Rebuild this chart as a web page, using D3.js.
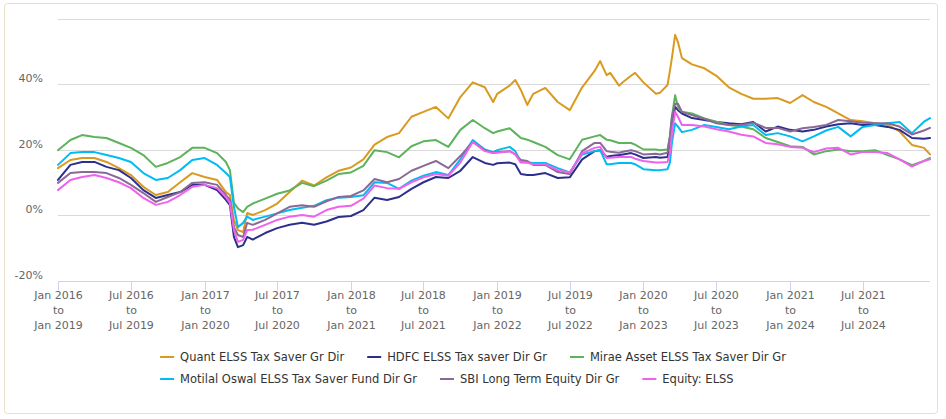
<!DOCTYPE html>
<html><head><meta charset="utf-8">
<script src="https://cdn.jsdelivr.net/npm/d3@7"></script>
<style>body{margin:0;background:#fff;} svg{display:block;}</style>
</head><body><svg id="c" width="946" height="419"></svg>
<script>
const dates = ["2016-01-01","2016-02-01","2016-03-01","2016-04-01","2016-05-01","2016-06-01","2016-07-01","2016-08-01","2016-09-01","2016-10-01","2016-11-01","2016-12-01",
"2017-01-01","2017-02-01","2017-02-23","2017-03-05","2017-03-15","2017-03-25","2017-04-07","2017-04-17","2017-05-01","2017-06-01","2017-07-01","2017-08-01","2017-09-01","2017-10-01","2017-11-01","2017-12-01",
"2018-01-01","2018-02-01","2018-03-01","2018-04-01","2018-05-01","2018-06-01","2018-07-01","2018-08-01","2018-09-01","2018-10-01","2018-11-01","2018-12-01","2018-12-22",
"2019-01-01","2019-02-01","2019-02-15","2019-03-01","2019-03-17","2019-04-01","2019-05-01","2019-06-01","2019-07-01","2019-08-01","2019-09-01","2019-09-15","2019-10-01","2019-10-10","2019-11-01","2019-11-11","2019-12-01","2019-12-11",
"2020-01-01","2020-02-01","2020-02-11","2020-03-01","2020-03-07","2020-03-12","2020-03-20","2020-03-27","2020-04-06","2020-05-01","2020-06-01","2020-07-01","2020-08-01","2020-09-01","2020-10-01","2020-11-01","2020-12-01",
"2021-01-01","2021-02-01","2021-03-01","2021-04-01","2021-05-01","2021-06-01","2021-07-01","2021-08-01","2021-09-01","2021-10-01","2021-11-01","2021-12-01","2021-12-16"];

const quant = [14.3,16.8,17.4,17.4,16.2,14.3,12.2,8.6,6.1,7.0,10.0,12.8,
11.6,10.7,7.0,6.1,-1.5,-4.6,-5.2,0.6,0.0,1.5,3.5,7.0,10.5,9.0,11.5,13.5,
14.5,17.0,21.5,23.8,25.0,30.0,31.5,33.0,29.5,36.0,40.5,39.0,34.5,
37.0,39.5,41.2,38.2,33.6,37.0,38.8,34.5,32.0,39.0,44.0,47.0,42.7,43.4,39.5,40.6,42.5,43.4,
40.5,37.0,37.3,39.7,44.0,48.0,55.0,52.8,47.9,46.0,44.8,42.5,39.0,37.0,35.5,35.5,35.7,
34.2,36.6,34.5,33.0,31.0,29.0,28.6,28.0,27.5,25.5,21.4,20.5,18.5];
const hdfc = [10.7,15.3,16.2,16.2,14.7,13.7,11.3,7.6,5.2,6.1,7.0,9.2,
9.2,7.6,4.6,3.0,-6.7,-9.8,-9.2,-6.7,-7.5,-5.5,-4.0,-3.0,-2.4,-3.0,-2.0,-0.6,
-0.3,1.5,5.3,4.6,5.5,8.0,10.0,11.6,11.3,13.5,17.7,15.9,15.3,
15.8,16.0,15.5,12.5,12.2,12.2,12.8,11.3,11.5,17.0,19.5,19.8,17.7,18.0,18.3,18.5,18.9,18.5,
17.4,17.7,17.5,17.7,22.0,28.0,33.0,32.0,31.0,29.6,29.0,28.4,28.0,27.7,28.4,25.5,27.0,
26.0,25.5,26.0,27.0,27.7,28.0,27.5,27.5,26.9,26.0,23.5,23.3,23.5];
const mirae = [19.8,22.9,24.4,23.8,23.5,22.0,20.5,18.3,14.7,15.9,17.7,20.5,
20.5,18.9,16.2,13.7,3.7,2.0,0.9,2.5,3.5,5.0,6.5,7.5,9.8,8.8,10.5,12.5,
13.0,15.0,19.8,19.2,17.6,21.0,22.5,22.9,20.8,26.0,29.0,26.5,25.0,
25.5,26.5,25.0,23.5,23.0,22.3,20.8,18.3,17.0,23.0,24.0,24.4,23.0,22.8,22.0,22.0,22.0,21.5,
20.0,20.0,19.8,20.0,24.0,30.0,36.6,33.0,31.5,31.0,29.5,28.5,27.5,27.0,26.2,23.5,22.3,
21.0,20.8,18.5,19.5,20.0,19.5,19.5,19.8,18.3,17.0,15.2,16.5,17.4];
const motilal = [15.3,18.9,19.2,19.2,18.3,17.4,16.2,12.8,10.7,11.3,13.7,16.8,
17.4,15.3,12.8,11.6,2.5,-3.7,-2.4,-0.5,-1.5,-0.5,0.5,1.5,2.2,2.8,4.5,5.3,
5.5,6.0,10.0,9.8,8.0,10.5,12.0,13.1,12.2,17.0,22.9,20.0,19.2,
19.8,20.8,19.5,16.2,16.0,15.9,15.9,14.3,13.0,18.5,19.5,19.8,15.5,15.5,15.9,15.9,15.9,15.5,
14.0,13.7,13.7,14.0,16.0,22.0,28.0,27.0,25.3,26.0,27.5,26.9,26.2,27.0,27.5,24.4,25.0,
24.0,22.5,24.0,25.8,26.9,24.0,26.9,27.5,28.0,28.4,25.0,28.5,29.6];
const sbi = [9.8,12.8,13.1,13.1,12.8,11.3,9.2,6.7,4.0,5.5,7.0,9.8,
10.0,9.2,6.1,4.6,-3.7,-6.1,-6.7,-2.4,-3.0,-1.5,0.5,2.5,3.0,2.5,4.2,5.5,
5.8,7.5,11.0,10.0,11.0,13.5,15.0,16.5,14.3,18.0,22.3,19.8,18.9,
19.2,19.5,18.5,16.8,16.5,15.3,15.3,13.1,12.5,19.5,22.0,22.0,19.5,19.3,19.0,19.3,19.8,19.5,
18.5,18.7,18.5,19.0,24.0,30.0,34.0,34.0,31.5,30.5,29.4,28.0,27.5,27.5,28.2,26.6,26.6,
25.5,26.5,26.9,27.5,29.0,28.6,28.2,28.0,28.0,27.0,24.6,25.8,26.6];
const equity = [7.6,10.7,11.6,12.2,11.3,10.0,8.2,5.2,3.1,4.0,6.1,8.6,
9.2,8.2,5.5,3.7,-4.6,-8.2,-7.6,-4.6,-4.5,-3.0,-1.5,-0.5,0.0,-0.5,1.5,2.5,
2.8,5.0,9.0,8.2,8.0,10.0,11.5,12.5,12.0,16.0,22.3,19.5,18.9,
19.0,19.5,18.5,16.0,16.0,15.5,15.5,13.7,13.0,18.8,20.5,20.8,17.4,17.5,17.7,17.7,17.7,17.2,
16.5,16.0,16.0,16.2,19.0,25.0,31.5,30.0,27.5,27.5,27.0,26.2,25.5,24.5,24.0,22.0,21.6,
20.8,20.5,19.2,20.3,20.5,18.5,19.2,19.2,18.9,17.0,14.8,16.5,17.0];

const seriesNames = ["Quant ELSS Tax Saver Gr Dir","HDFC ELSS Tax saver Dir Gr","Mirae Asset ELSS Tax Saver Dir Gr","Motilal Oswal ELSS Tax Saver Fund Dir Gr","SBI Long Term Equity Dir Gr","Equity: ELSS"];
const seriesValues = [quant, hdfc, mirae, motilal, sbi, equity];
const seriesColors = ["#d99a1f","#2c2f8c","#5cb35c","#00bcf2","#8a6a95","#ee62ee"];

const yTicks = [-20, 0, 20, 40, 60];
const yTickLabels = ["-20%","0%","20%","40%",""];
const xTickDates = ["2016-01-01","2016-07-01","2017-01-01","2017-07-01","2018-01-01","2018-07-01","2019-01-01","2019-07-01","2020-01-01","2020-07-01","2021-01-01","2021-07-01"];
const xTickLabels = [["Jan 2016","to","Jan 2019"],["Jul 2016","to","Jul 2019"],["Jan 2017","to","Jan 2020"],["Jul 2017","to","Jul 2020"],
["Jan 2018","to","Jan 2021"],["Jul 2018","to","Jul 2021"],["Jan 2019","to","Jan 2022"],["Jul 2019","to","Jul 2022"],
["Jan 2020","to","Jan 2023"],["Jul 2020","to","Jul 2023"],["Jan 2021","to","Jan 2024"],["Jul 2021","to","Jul 2024"]];

const parse = d3.utcParse("%Y-%m-%d");
const svg = d3.select("#c");
const FONT = "'DejaVu Sans', Verdana, sans-serif";

svg.append("rect").attr("x",4.5).attr("y",3.5).attr("width",933).attr("height",410).attr("rx",3)
  .attr("fill","#fff").attr("stroke","#e8dfc9").attr("stroke-width",1);

const x = d3.scaleUtc().domain([parse("2016-01-01"), parse("2021-12-16")]).range([58, 930]);
const y = d3.scaleLinear().domain([-20, 60]).range([280.5, 18.5]);

// grid
const grid = svg.append("g");
yTicks.filter(v => v !== -20).forEach(v => {
  const yy = Math.round(y(v)) + 0.5;
  grid.append("line").attr("x1",58).attr("x2",930).attr("y1",yy).attr("y2",yy)
    .attr("stroke","#d9d9d9").attr("stroke-width",1);
});
// y labels
yTicks.forEach((v,i) => {
  svg.append("text").attr("x",43).attr("y",Math.round(y(v)) - 2)
    .attr("text-anchor","end").attr("font-family",FONT).attr("font-size","11px").attr("fill","#666")
    .text(yTickLabels[i]);
});

// x axis line and ticks
const axY = Math.round(y(-20)) + 0.5;
svg.append("line").attr("x1",58).attr("x2",930).attr("y1",axY).attr("y2",axY).attr("stroke","#ccd6eb");
xTickDates.forEach((d,i) => {
  const xx = Math.round(x(parse(d))) + 0.5;
  svg.append("line").attr("x1",xx).attr("x2",xx).attr("y1",axY).attr("y2",axY+9).attr("stroke","#ccd6eb");
  const t = svg.append("text").attr("text-anchor","middle").attr("font-family",FONT).attr("font-size","11px").attr("fill","#666");
  xTickLabels[i].forEach((s,j) => {
    t.append("tspan").attr("x",xx).attr("y",299 + j*15).text(s);
  });
});

// lines
const line = d3.line().x((d,i) => x(parse(dates[i]))).y(d => y(d));
seriesValues.forEach((vals,k) => {
  svg.append("path").datum(vals).attr("d", line)
    .attr("fill","none").attr("stroke",seriesColors[k]).attr("stroke-width",2)
    .attr("stroke-linejoin","round").attr("stroke-linecap","round");
});

// legend
const lg = svg.append("g");
const perRow = 3, symW = 14, symGap = 6, itemGap = 23;
const rowYs = [357, 379];
const items = seriesNames.map((n,k) => {
  const g = lg.append("g");
  const t = g.append("text").attr("font-family",FONT).attr("font-size","11.5px").attr("fill","#333").text(n);
  const w = t.node().getComputedTextLength();
  return {g, t, w, k};
});
const rows = [];
items.forEach((it,i) => { const r = Math.floor(i/perRow); (rows[r] = rows[r] || []).push(it); });
const rowWidths = rows.map(r => d3.sum(r, it => symW + symGap + it.w) + itemGap*(r.length-1));
const maxW = d3.max(rowWidths);
const left0 = (946 - maxW)/2;
rows.forEach((r,ri) => {
  let cx = left0;
  r.forEach(it => {
    const cy = rowYs[ri];
    it.g.append("line").attr("x1",cx).attr("x2",cx+symW).attr("y1",cy).attr("y2",cy)
      .attr("stroke",seriesColors[it.k]).attr("stroke-width",2);
    it.t.attr("x",cx+symW+symGap).attr("y",cy+4);
    cx += symW + symGap + it.w + itemGap;
  });
});
</script>
</body></html>
